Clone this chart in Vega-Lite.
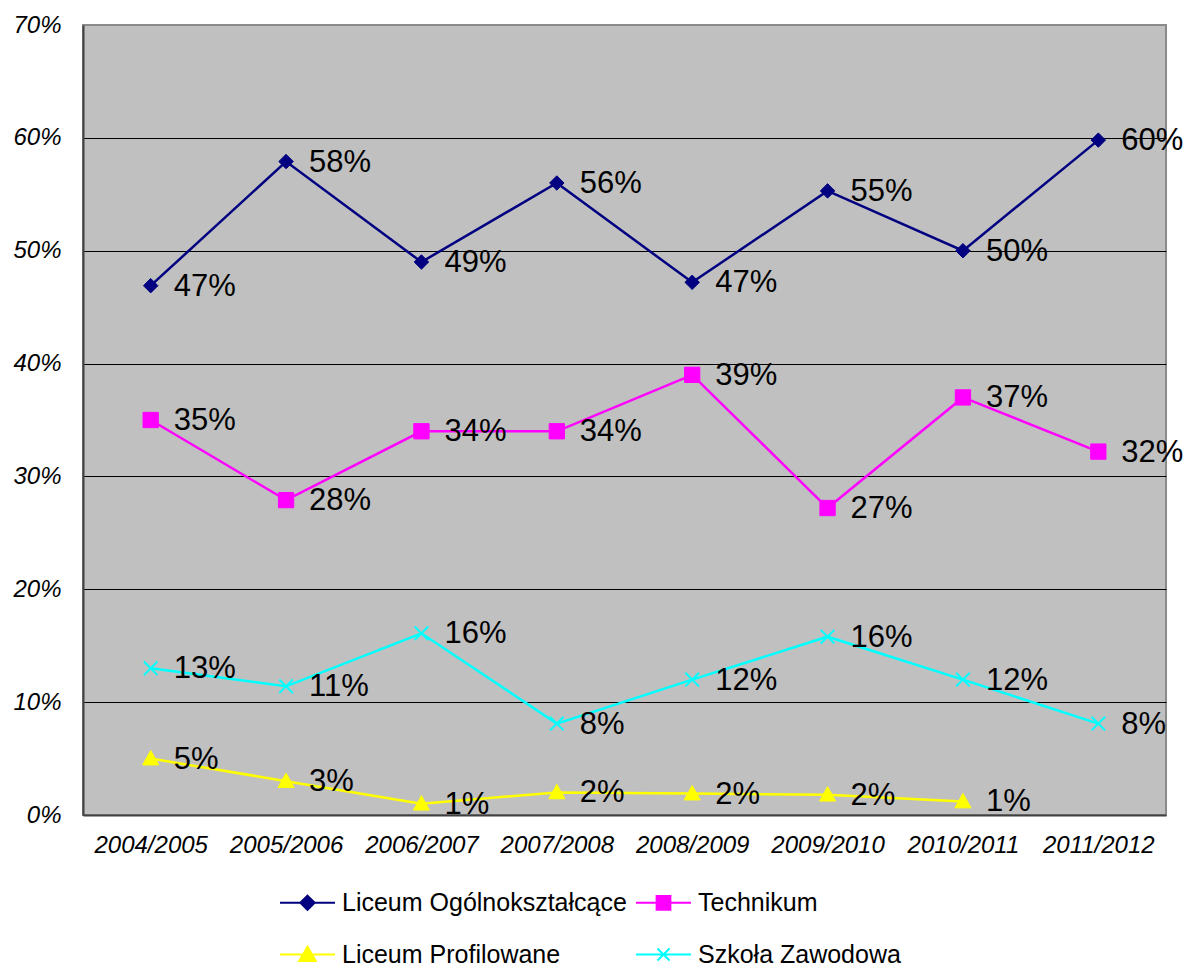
{
  "$schema": "https://vega.github.io/schema/vega-lite/v6.json",
  "width": 1083,
  "height": 790,
  "autosize": {"type": "none"},
  "padding": {"left": 83, "top": 25, "right": 24, "bottom": 153},
  "background": "white",
  "config": {
    "font": "Liberation Sans",
    "view": {"fill": "#c0c0c0", "stroke": "#8a8a8a", "strokeWidth": 2}
  },
  "data": {
    "values": [
      {"year": "2004/2005", "series": "Liceum Ogólnokształcące", "value": 0.469},
      {"year": "2005/2006", "series": "Liceum Ogólnokształcące", "value": 0.579},
      {"year": "2006/2007", "series": "Liceum Ogólnokształcące", "value": 0.490},
      {"year": "2007/2008", "series": "Liceum Ogólnokształcące", "value": 0.560},
      {"year": "2008/2009", "series": "Liceum Ogólnokształcące", "value": 0.472},
      {"year": "2009/2010", "series": "Liceum Ogólnokształcące", "value": 0.553},
      {"year": "2010/2011", "series": "Liceum Ogólnokształcące", "value": 0.500},
      {"year": "2011/2012", "series": "Liceum Ogólnokształcące", "value": 0.598},
      {"year": "2004/2005", "series": "Technikum", "value": 0.350},
      {"year": "2005/2006", "series": "Technikum", "value": 0.279},
      {"year": "2006/2007", "series": "Technikum", "value": 0.340},
      {"year": "2007/2008", "series": "Technikum", "value": 0.340},
      {"year": "2008/2009", "series": "Technikum", "value": 0.390},
      {"year": "2009/2010", "series": "Technikum", "value": 0.272},
      {"year": "2010/2011", "series": "Technikum", "value": 0.370},
      {"year": "2011/2012", "series": "Technikum", "value": 0.322},
      {"year": "2004/2005", "series": "Liceum Profilowane", "value": 0.050},
      {"year": "2005/2006", "series": "Liceum Profilowane", "value": 0.030},
      {"year": "2006/2007", "series": "Liceum Profilowane", "value": 0.010},
      {"year": "2007/2008", "series": "Liceum Profilowane", "value": 0.020},
      {"year": "2008/2009", "series": "Liceum Profilowane", "value": 0.019},
      {"year": "2009/2010", "series": "Liceum Profilowane", "value": 0.018},
      {"year": "2010/2011", "series": "Liceum Profilowane", "value": 0.012},
      {"year": "2004/2005", "series": "Szkoła Zawodowa", "value": 0.130},
      {"year": "2005/2006", "series": "Szkoła Zawodowa", "value": 0.114},
      {"year": "2006/2007", "series": "Szkoła Zawodowa", "value": 0.161},
      {"year": "2007/2008", "series": "Szkoła Zawodowa", "value": 0.081},
      {"year": "2008/2009", "series": "Szkoła Zawodowa", "value": 0.120},
      {"year": "2009/2010", "series": "Szkoła Zawodowa", "value": 0.158},
      {"year": "2010/2011", "series": "Szkoła Zawodowa", "value": 0.120},
      {"year": "2011/2012", "series": "Szkoła Zawodowa", "value": 0.081}
    ]
  },
  "encoding": {
    "x": {
      "field": "year",
      "type": "nominal",
      "sort": null,
      "scale": {"type": "point", "padding": 0.5},
      "axis": {
        "title": null,
        "labelAngle": 0,
        "labelFontSize": 24,
        "labelFontStyle": "italic",
        "labelColor": "black",
        "labelPadding": 18,
        "ticks": false,
        "domainColor": "#404040",
        "domainWidth": 2,
        "grid": false
      }
    },
    "y": {
      "field": "value",
      "type": "quantitative",
      "scale": {"domain": [0, 0.7], "nice": false, "zero": true},
      "axis": {
        "title": null,
        "values": [0, 0.1, 0.2, 0.3, 0.4, 0.5, 0.6, 0.7],
        "format": ".0%",
        "labelFontSize": 24,
        "labelFontStyle": "italic",
        "labelColor": "black",
        "labelPadding": 22,
        "ticks": false,
        "domainColor": "#404040",
        "domainWidth": 2,
        "grid": true,
        "gridColor": {"condition": {"test": "datum.value < 0.05 || datum.value > 0.65", "value": "transparent"}, "value": "black"},
        "gridWidth": 1,
        "gridOpacity": 1
      }
    },
    "color": {
      "field": "series",
      "type": "nominal",
      "sort": null,
      "scale": {
        "domain": ["Liceum Ogólnokształcące", "Technikum", "Liceum Profilowane", "Szkoła Zawodowa"],
        "range": ["#000080", "#ff00ff", "#ffff00", "#00ffff"]
      },
      "legend": {
        "title": null,
        "orient": "none",
        "legendX": 196,
        "legendY": 849,
        "direction": "horizontal",
        "columns": 2,
        "columnPadding": 5,
        "rowPadding": 10,
        "padding": 0,
        "labelFontSize": 25,
        "labelColor": "black",
        "labelOffset": 6,
        "symbolSize": 3025,
        "symbolStrokeWidth": 2,
        "labelLimit": 400,
        "encode": {
          "symbols": {
            "update": {
              "shape": {"signal": "datum.value === 'Technikum' ? 'M-1,0H1M-0.25,-0.25H0.25V0.25H-0.25Z' : datum.value === 'Liceum Profilowane' ? 'M-1,0H1M0,-0.28L0.3,0.24H-0.3Z' : datum.value === 'Szkoła Zawodowa' ? 'M-1,0H1M-0.22,-0.22L0.22,0.22M-0.22,0.22L0.22,-0.22' : 'M-1,0H1M0,-0.26L0.26,0L0,0.26L-0.26,0Z'"},
              "fill": {"signal": "scale('color', datum.value)"},
              "stroke": {"signal": "scale('color', datum.value)"},
              "strokeWidth": {"value": 2},
              "opacity": {"value": 1},
              "fillOpacity": {"value": 1},
              "strokeOpacity": {"value": 1}
            }
          }
        }
      }
    }
  },
  "layer": [
    {
      "mark": {"type": "line", "strokeWidth": 2.5}
    },
    {
      "transform": [{"filter": {"field": "series", "equal": "Liceum Ogólnokształcące"}}],
      "mark": {"type": "point", "filled": true, "opacity": 1, "strokeWidth": 1, "stroke": "#000080", "size": 289, "shape": "M0,-0.85L0.85,0L0,0.85L-0.85,0Z"}
    },
    {
      "transform": [{"filter": {"field": "series", "equal": "Technikum"}}],
      "mark": {"type": "point", "filled": true, "opacity": 1, "strokeWidth": 1, "stroke": "#ff00ff", "size": 289, "shape": "M-0.9,-0.9H0.9V0.9H-0.9Z"}
    },
    {
      "transform": [{"filter": {"field": "series", "equal": "Liceum Profilowane"}}],
      "mark": {"type": "point", "filled": true, "opacity": 1, "strokeWidth": 1, "stroke": "#ffff00", "size": 289, "shape": "M0,-0.95L0.95,0.75H-0.95Z"}
    },
    {
      "transform": [{"filter": {"field": "series", "equal": "Szkoła Zawodowa"}}],
      "mark": {"type": "point", "filled": true, "opacity": 1, "strokeWidth": 2, "stroke": "#00ffff", "size": 289, "shape": "M-0.8,-0.8L0.8,0.8M-0.8,0.8L0.8,-0.8"}
    },
    {
      "mark": {"type": "text", "align": "left", "baseline": "middle", "dx": 23, "dy": 1, "fontSize": 31, "color": "black"},
      "encoding": {
        "text": {"field": "value", "type": "quantitative", "format": ".0%"},
        "color": {"value": "black"}
      }
    }
  ]
}
